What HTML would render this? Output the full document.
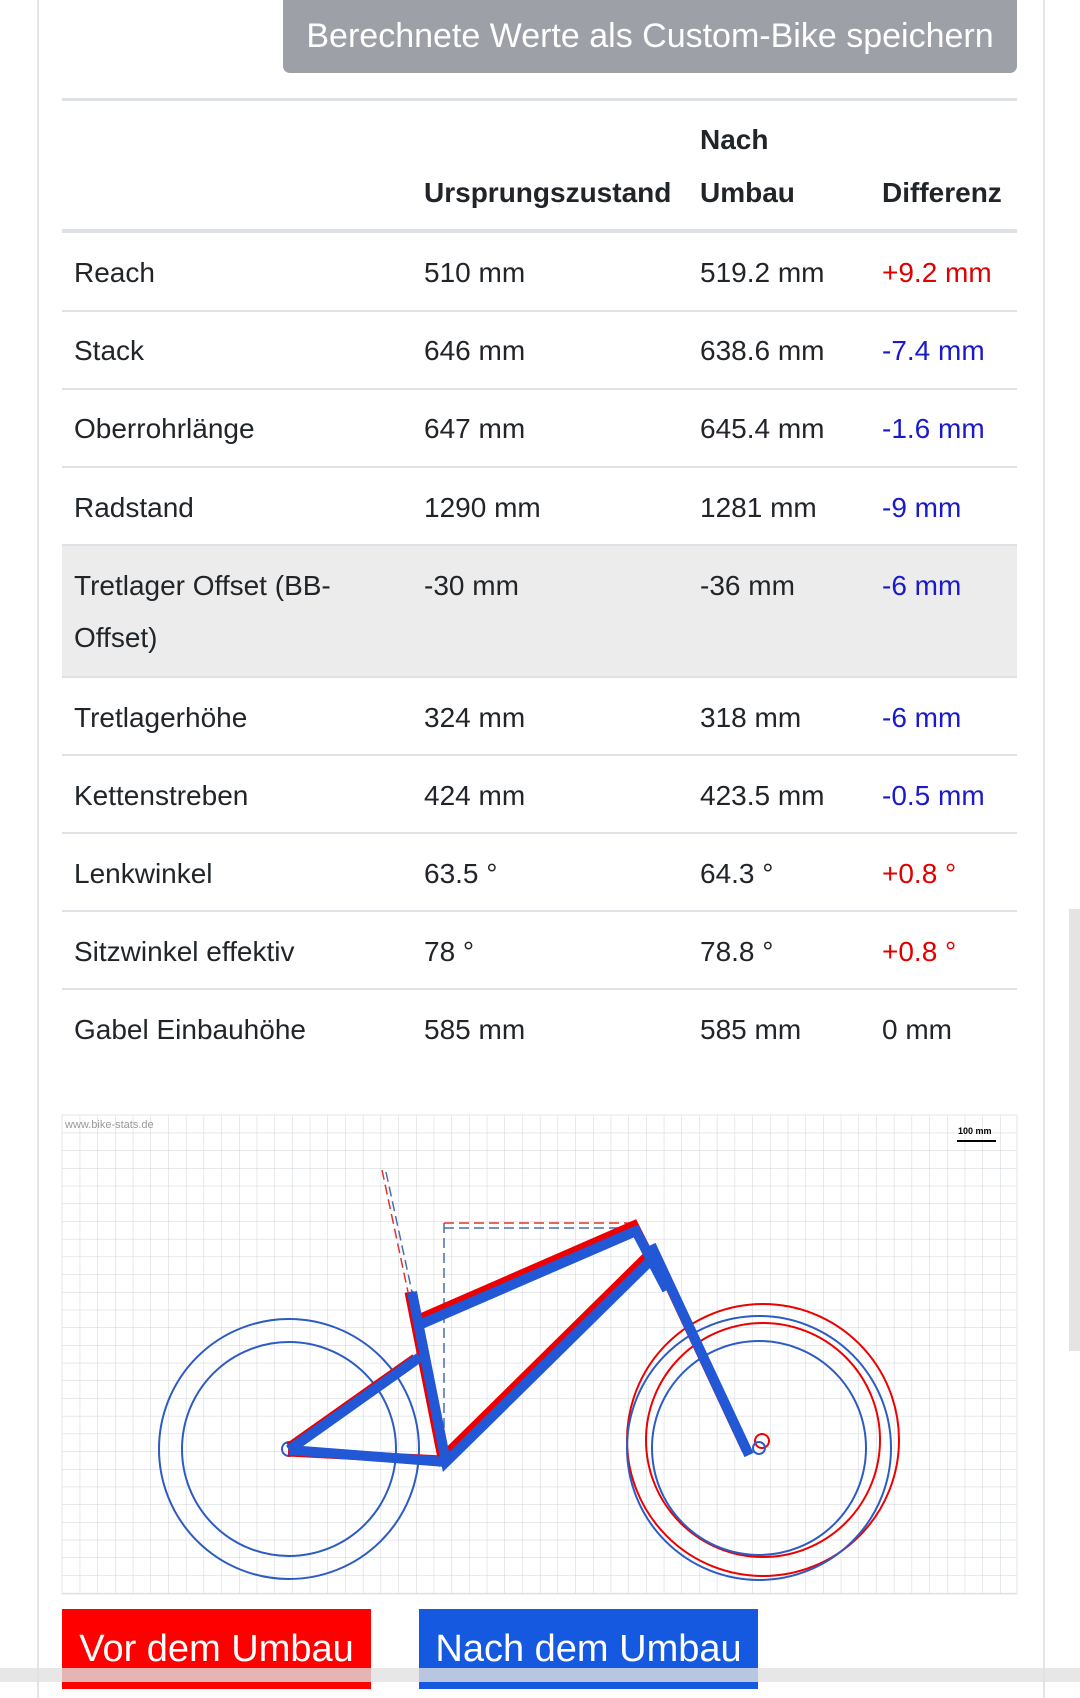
<!DOCTYPE html>
<html><head><meta charset="utf-8"><style>
body{margin:0;width:1080px;height:1682px;background:#fff;position:relative;overflow:hidden;font-family:"Liberation Sans",sans-serif;color:#212529}
.card{position:absolute;left:37px;top:-2px;width:1004px;height:1700px;border-left:2px solid #e3e5e8;border-right:2px solid #e3e5e8}
.btn{position:absolute;left:283px;top:0;width:734px;height:73px;background:#9da1a7;border-radius:0 0 7px 7px;color:#fff;font-size:34px;line-height:73px;text-align:center}
.hl{position:absolute;left:62px;width:955px;background:#dee2e6}
.t{position:absolute;font-size:28px;white-space:nowrap}
.b{font-weight:bold}
.r{color:#e00000}.u{color:#1a1acc}
</style></head><body>
<div class="card"></div>
<div class="btn">Berechnete Werte als Custom-Bike speichern</div>
<div class="hl" style="top:98px;height:3px"></div>
<div class="t b" style="left:700px;top:124px">Nach</div>
<div class="t b" style="left:424px;top:177px">Ursprungszustand</div>
<div class="t b" style="left:700px;top:177px">Umbau</div>
<div class="t b" style="left:882px;top:177px">Differenz</div>
<div class="hl" style="top:229px;height:4px"></div>
<div style="position:absolute;left:62px;top:545px;width:955px;height:131px;background:#ececec"></div>
<div class="hl" style="top:310px;height:2px"></div>
<div class="hl" style="top:388px;height:2px"></div>
<div class="hl" style="top:466px;height:2px"></div>
<div class="hl" style="top:544px;height:2px"></div>
<div class="hl" style="top:676px;height:2px"></div>
<div class="hl" style="top:754px;height:2px"></div>
<div class="hl" style="top:832px;height:2px"></div>
<div class="hl" style="top:910px;height:2px"></div>
<div class="hl" style="top:988px;height:2px"></div>

<div class="t" style="left:74px;top:257px">Reach</div><div class="t" style="left:424px;top:257px">510 mm</div><div class="t" style="left:700px;top:257px">519.2 mm</div><div class="t r" style="left:882px;top:257px">+9.2 mm</div>
<div class="t" style="left:74px;top:335px">Stack</div><div class="t" style="left:424px;top:335px">646 mm</div><div class="t" style="left:700px;top:335px">638.6 mm</div><div class="t u" style="left:882px;top:335px">-7.4 mm</div>
<div class="t" style="left:74px;top:413px">Oberrohrlänge</div><div class="t" style="left:424px;top:413px">647 mm</div><div class="t" style="left:700px;top:413px">645.4 mm</div><div class="t u" style="left:882px;top:413px">-1.6 mm</div>
<div class="t" style="left:74px;top:492px">Radstand</div><div class="t" style="left:424px;top:492px">1290 mm</div><div class="t" style="left:700px;top:492px">1281 mm</div><div class="t u" style="left:882px;top:492px">-9 mm</div>
<div class="t" style="left:74px;top:570px">Tretlager Offset (BB-</div><div class="t" style="left:74px;top:622px">Offset)</div><div class="t" style="left:424px;top:570px">-30 mm</div><div class="t" style="left:700px;top:570px">-36 mm</div><div class="t u" style="left:882px;top:570px">-6 mm</div>
<div class="t" style="left:74px;top:702px">Tretlagerhöhe</div><div class="t" style="left:424px;top:702px">324 mm</div><div class="t" style="left:700px;top:702px">318 mm</div><div class="t u" style="left:882px;top:702px">-6 mm</div>
<div class="t" style="left:74px;top:780px">Kettenstreben</div><div class="t" style="left:424px;top:780px">424 mm</div><div class="t" style="left:700px;top:780px">423.5 mm</div><div class="t u" style="left:882px;top:780px">-0.5 mm</div>
<div class="t" style="left:74px;top:858px">Lenkwinkel</div><div class="t" style="left:424px;top:858px">63.5 °</div><div class="t" style="left:700px;top:858px">64.3 °</div><div class="t r" style="left:882px;top:858px">+0.8 °</div>
<div class="t" style="left:74px;top:936px">Sitzwinkel effektiv</div><div class="t" style="left:424px;top:936px">78 °</div><div class="t" style="left:700px;top:936px">78.8 °</div><div class="t r" style="left:882px;top:936px">+0.8 °</div>
<div class="t" style="left:74px;top:1014px">Gabel Einbauhöhe</div><div class="t" style="left:424px;top:1014px">585 mm</div><div class="t" style="left:700px;top:1014px">585 mm</div><div class="t" style="left:882px;top:1014px">0 mm</div>

<svg style="position:absolute;left:0;top:0" width="1080" height="1682">
<defs><pattern id="g" x="62" y="1115" width="17.7" height="17.7" patternUnits="userSpaceOnUse"><path d="M0 0H17.7M0 0V17.7" stroke="#cfd3da" stroke-width="1" fill="none"/></pattern></defs>
<rect x="62" y="1115" width="955" height="479" fill="url(#g)" stroke="#e3e5e8"/>
<text x="65" y="1128" font-size="11" fill="#999" font-family="Liberation Sans">www.bike-stats.de</text>
<text x="958" y="1134" font-size="9" fill="#000" font-weight="bold" font-family="Liberation Sans">100 mm</text>
<line x1="957" y1="1141" x2="996" y2="1141" stroke="#000" stroke-width="2"/>
<g fill="none" stroke-width="2">
<circle cx="763" cy="1440" r="136" stroke="#e00"/><circle cx="763" cy="1440" r="117" stroke="#e00"/>
<circle cx="289" cy="1449" r="130" stroke="#2d5bc4"/><circle cx="289" cy="1449" r="107" stroke="#2d5bc4"/>
<circle cx="759" cy="1448" r="132" stroke="#2d5bc4"/><circle cx="759" cy="1448" r="107" stroke="#2d5bc4"/>
<circle cx="289" cy="1449" r="7" stroke="#2d5bc4"/><circle cx="762" cy="1441" r="7" stroke="#e00"/><circle cx="759" cy="1448" r="6" stroke="#2d5bc4"/>
</g>
<g stroke-dasharray="10,5" stroke-width="1.5" fill="none">
<line x1="444" y1="1223" x2="636" y2="1223" stroke="#d33"/><line x1="444" y1="1228" x2="630" y2="1228" stroke="#4a6fae"/>
<line x1="444" y1="1223" x2="444" y2="1460" stroke="#4a6fae"/>
<line x1="382" y1="1170" x2="408" y2="1292" stroke="#d33"/><line x1="386" y1="1172" x2="412" y2="1292" stroke="#4a6fae"/>
</g>
<g stroke="#e00" stroke-width="9" stroke-linecap="butt" fill="none">
<path d="M409 1292 L442 1458 L647 1256 M416 1320 L634 1225 L662 1280 M288 1452 L442 1460 M289 1447 L415 1358 M651 1247 L746 1450"/>
</g>
<g stroke="#2257d6" stroke-width="10" stroke-linecap="butt" fill="none">
<path d="M412 1292 L446 1462 L651 1260 M419 1325 L636 1231 L667 1290 M289 1450 L446 1462 M289 1450 L420 1357 M651 1245 L749 1455"/>
</g>
</svg>

<div style="position:absolute;left:62px;top:1609px;width:309px;height:80px;background:#f00;color:#fff;font-size:38px;line-height:80px;text-align:center">Vor dem Umbau</div>
<div style="position:absolute;left:419px;top:1609px;width:339px;height:80px;background:#1459e0;color:#fff;font-size:38px;line-height:80px;text-align:center">Nach dem Umbau</div>
<div style="position:absolute;left:0;top:1668px;width:1080px;height:14px;background:rgba(225,225,225,0.8)"></div>
<div style="position:absolute;left:1069px;top:909px;width:11px;height:442px;background:#e4e4e4"></div>
</body></html>
